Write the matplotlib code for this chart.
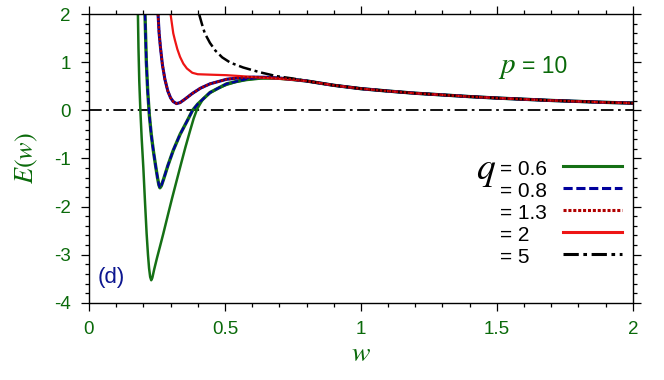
import matplotlib
matplotlib.use("Agg")
import matplotlib.pyplot as plt
from matplotlib.ticker import MultipleLocator

plt.rcParams['font.family'] = ['Liberation Sans', 'DejaVu Sans']
plt.rcParams['mathtext.fontset'] = 'stix'
plt.rcParams['axes.unicode_minus'] = False

# common tail (all curves merge for w > ~0.8)
tail_w = [0.80, 0.90, 1.00, 1.10, 1.20, 1.30, 1.40, 1.50, 1.60, 1.70, 1.80, 1.90, 2.00]
tail_E = [0.61, 0.52, 0.45, 0.40, 0.355, 0.32, 0.285, 0.255, 0.23, 0.205, 0.185, 0.165, 0.15]

# q = 0.6
w_q06 = [0.180, 0.182, 0.185, 0.189, 0.194, 0.200, 0.206, 0.212, 0.217, 0.221, 0.225, 0.229,
         0.233, 0.240, 0.250, 0.262, 0.273, 0.290, 0.305, 0.322, 0.340, 0.355, 0.371, 0.385,
         0.398, 0.420, 0.445, 0.475, 0.506, 0.540, 0.580, 0.630, 0.680, 0.730, 0.770]
E_q06 = [2.0, 1.3, 0.6, 0.0, -0.6, -1.2, -1.9, -2.56, -3.0, -3.28, -3.46, -3.53,
         -3.48, -3.30, -3.07, -2.81, -2.57, -2.18, -1.84, -1.47, -1.08, -0.76, -0.44, -0.17,
         0.03, 0.24, 0.36, 0.46, 0.53, 0.59, 0.63, 0.66, 0.665, 0.65, 0.63]

# q = 0.8
w_q08 = [0.206, 0.211, 0.216, 0.222, 0.229, 0.237, 0.245, 0.252, 0.257, 0.261, 0.266, 0.275,
         0.290, 0.310, 0.335, 0.362, 0.381, 0.400, 0.445, 0.506, 0.580, 0.640, 0.700, 0.750]
E_q08 = [2.0, 1.0, 0.4, -0.1, -0.5, -0.85, -1.15, -1.40, -1.55, -1.61, -1.57, -1.42,
         -1.15, -0.83, -0.50, -0.21, 0.0, 0.13, 0.37, 0.55, 0.65, 0.68, 0.665, 0.64]

# q = 1.3
w_q13 = [0.254, 0.258, 0.263, 0.270, 0.279, 0.290, 0.300, 0.310, 0.322, 0.335, 0.350, 0.380,
         0.410, 0.445, 0.506, 0.560, 0.604, 0.660, 0.720, 0.760]
E_q13 = [2.0, 1.6, 1.3, 0.95, 0.65, 0.40, 0.26, 0.18, 0.14, 0.16, 0.22, 0.35,
         0.46, 0.55, 0.645, 0.68, 0.69, 0.685, 0.66, 0.635]

# q = 2
w_q2 = [0.300, 0.305, 0.310, 0.316, 0.325, 0.335, 0.347, 0.360, 0.380, 0.400, 0.450, 0.506,
        0.560, 0.629, 0.700, 0.750]
E_q2 = [2.0, 1.80, 1.60, 1.46, 1.27, 1.11, 0.97, 0.87, 0.78, 0.75, 0.74, 0.73,
        0.71, 0.68, 0.655, 0.635]

# q = 5
w_q5 = [0.405, 0.415, 0.426, 0.445, 0.465, 0.490, 0.520, 0.567, 0.629, 0.690, 0.751]
E_q5 = [2.0, 1.8, 1.6, 1.40, 1.24, 1.10, 0.99, 0.89, 0.79, 0.71, 0.66]

labels = ["= 0.6", "= 0.8", "= 1.3", "= 2", "= 5"]

GREEN_TXT = '#0a6a0a'
C_GREEN = '#157015'
C_BLUE = '#00009c'
C_DRED = '#b00000'
C_RED = '#ee1515'

fig = plt.figure(figsize=(6.64, 3.80), dpi=100)
ax = fig.add_axes([0.134, 0.203, 0.819, 0.760])

ax.axhline(0, color='black', lw=1.3, dashes=(7, 2.5, 1.5, 2.5))

def full(w, E):
    return list(w) + tail_w, list(E) + tail_E

styles = [
    dict(color=C_GREEN, lw=1.8),
    dict(color=C_BLUE, lw=1.6, dashes=(3, 1.2)),
    dict(color=C_DRED, lw=1.8, dashes=(1, 0.6)),
    dict(color=C_RED, lw=1.6),
    dict(color='black', lw=1.8, dashes=(5, 1.5, 1.2, 1.5)),
]

wx, ex = full(w_q06, E_q06)
ax.plot(wx, ex, **styles[0])
wx, ex = full(w_q08, E_q08)
ax.plot(wx, ex, color=C_GREEN, lw=2.4)
ax.plot(wx, ex, **styles[1])
w13, e13 = full(w_q13, E_q13)
ax.plot(w13, e13, color=C_BLUE, lw=2.2)
wx, ex = full(w_q2, E_q2)
ax.plot(wx, ex, **styles[3])
wx, ex = full(w_q5, E_q5)
ax.plot(wx, ex, **styles[4])
ax.plot(w13, e13, **styles[2])

ax.set_xlim(0, 2)
ax.set_ylim(-4, 2)
ax.xaxis.set_major_locator(MultipleLocator(0.5))
ax.xaxis.set_minor_locator(MultipleLocator(0.1))
ax.yaxis.set_major_locator(MultipleLocator(1))
ax.yaxis.set_minor_locator(MultipleLocator(0.2))
ax.set_xticks([0, 0.5, 1, 1.5, 2])
ax.set_xticklabels(['0', '0.5', '1', '1.5', '2'])
ax.tick_params(which='both', direction='out', top=True, right=True,
               labelcolor=GREEN_TXT, labelsize=13.5, width=0.9)
ax.tick_params(which='major', length=6)
ax.tick_params(which='minor', length=3)
ax.tick_params(axis='y', pad=7)
ax.tick_params(axis='x', pad=7)
for s in ax.spines.values():
    s.set_linewidth(1.0)

ax.set_xlabel(r'$w$', fontsize=20, color=GREEN_TXT, labelpad=2)
ax.set_ylabel(r'$E(w)$', fontsize=19, color=GREEN_TXT, labelpad=10)

ax.text(0.752, 0.796, r'$p$', transform=ax.transAxes, fontsize=21,
        color=GREEN_TXT, va='baseline', ha='left')
ax.text(0.797, 0.796, '= 10', transform=ax.transAxes, fontsize=16.5,
        color=GREEN_TXT, va='baseline', ha='left')
ax.text(0.015, 0.068, '(d)', transform=ax.transAxes, fontsize=16,
        color='#0c1690', va='baseline', ha='left')
ax.text(0.711, 0.430, r'$q$', transform=ax.transAxes, fontsize=27,
        color='black', va='baseline', ha='left')

# manual legend (text left-aligned, sample line to the right)
row_y = [0.463, 0.387, 0.311, 0.234, 0.158]
for lab, st, yy in zip(labels, styles, row_y):
    ax.text(0.7555, yy, lab, transform=ax.transAxes, fontsize=15,
            color='black', va='center', ha='left')
    st2 = dict(st)
    st2['lw'] = 2.2
    ax.plot([0.871, 0.980], [yy + 0.012, yy + 0.012], transform=ax.transAxes,
            clip_on=False, **st2)

fig.savefig('out.png', dpi=100)
